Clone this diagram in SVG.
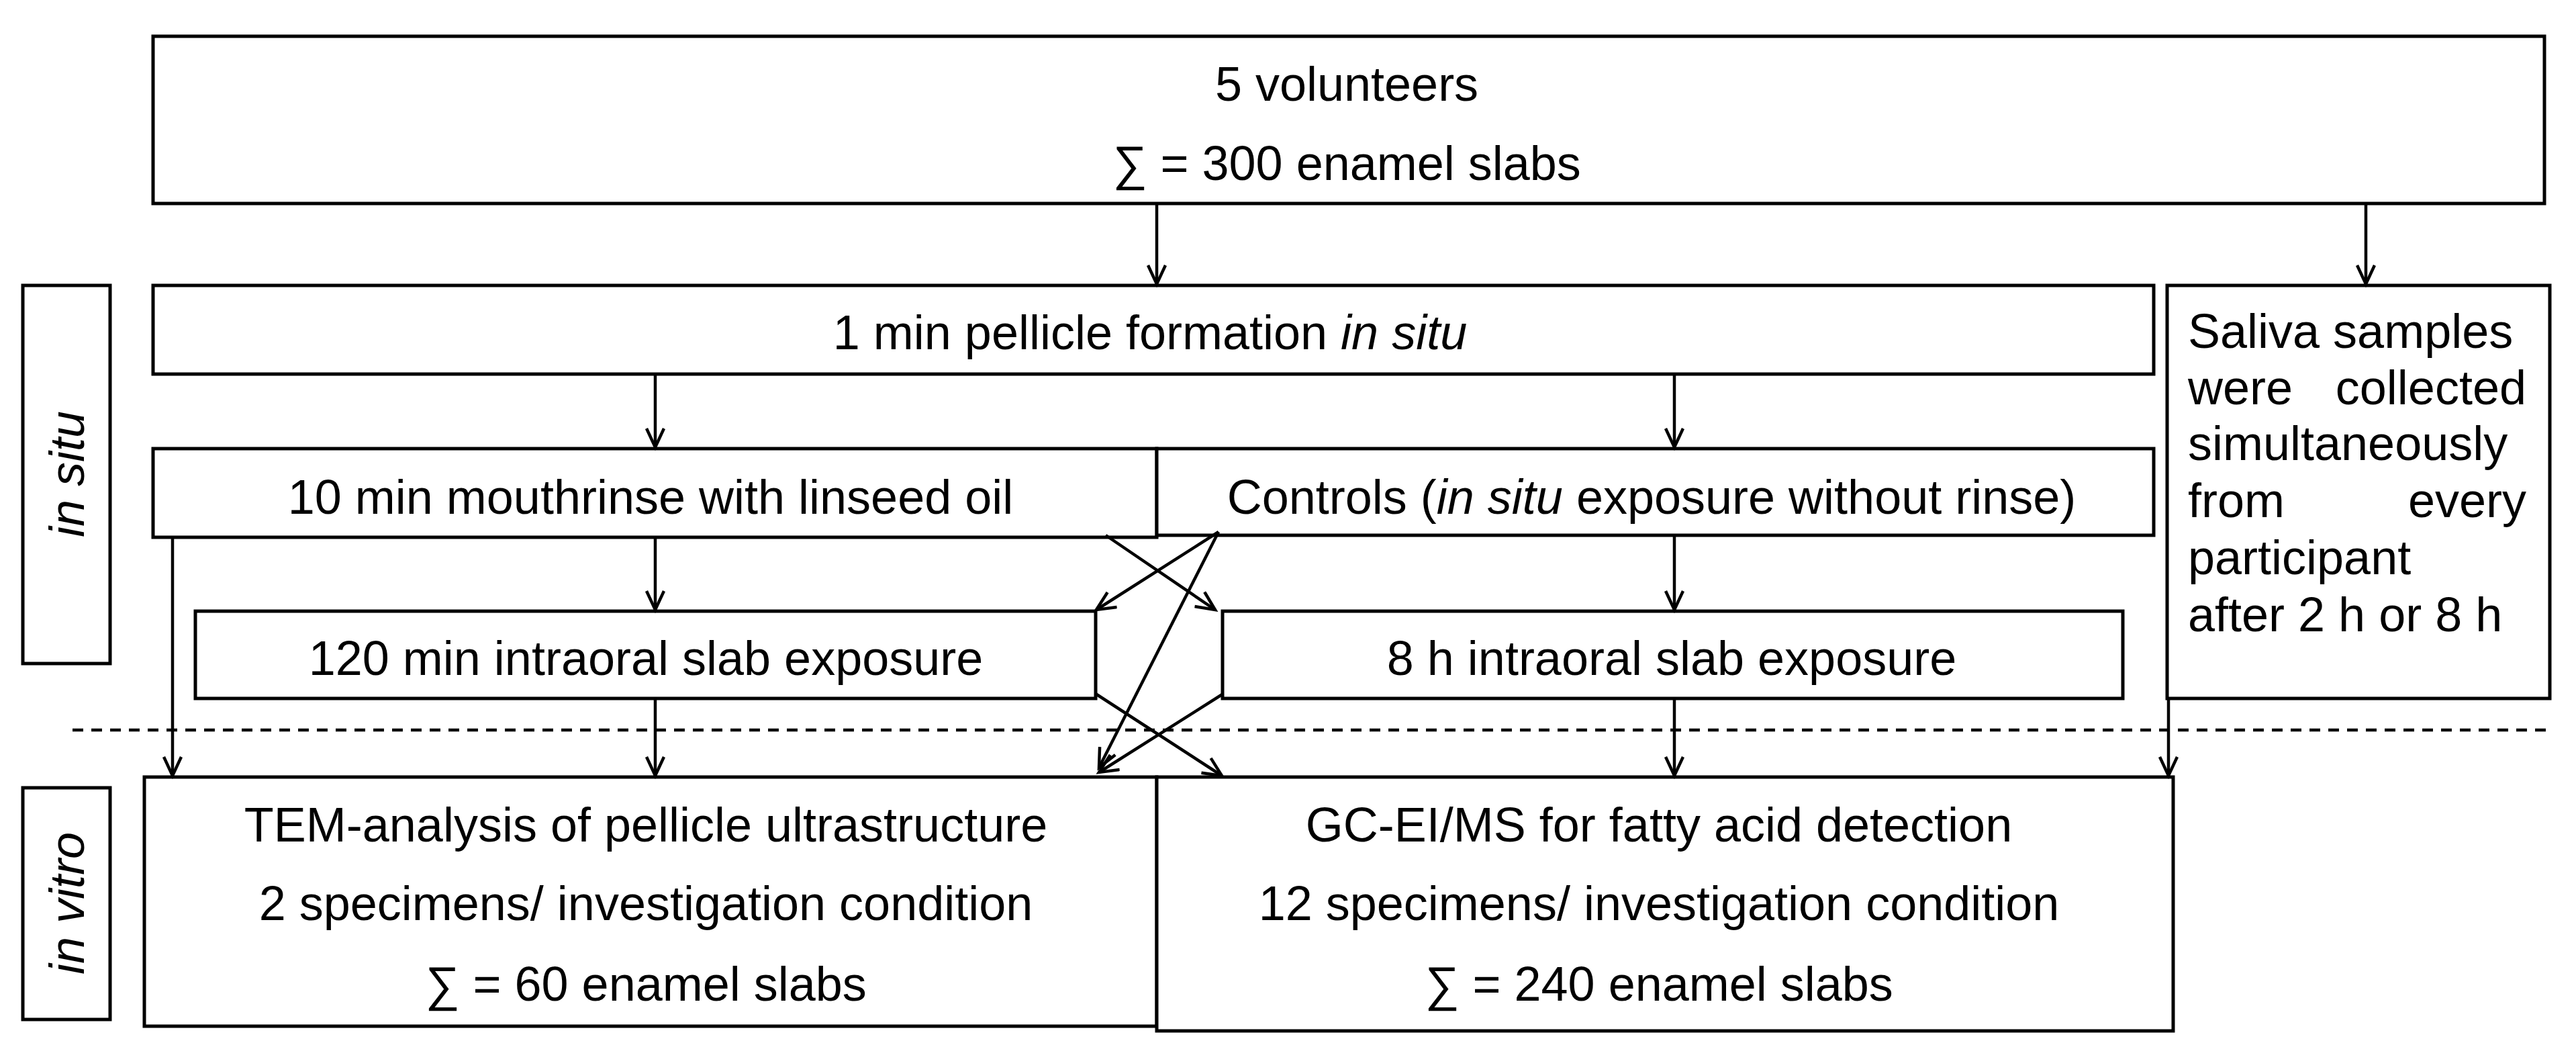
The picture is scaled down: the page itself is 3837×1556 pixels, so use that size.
<svg xmlns="http://www.w3.org/2000/svg" width="3837" height="1556" viewBox="0 0 3837 1556">
<style>
rect{fill:#fff;stroke:#000;stroke-width:5}
text{font-family:"Liberation Sans",Arial,sans-serif;font-size:72px;fill:#000}
.c{text-anchor:middle}
.e{text-anchor:end}
.con line{stroke:#000;stroke-width:4.5;marker-end:url(#a)}
</style>
<defs>
<marker id="a" markerUnits="userSpaceOnUse" markerWidth="40" markerHeight="40" refX="30" refY="15" orient="auto">
<path d="M2,2 L30,15 L2,28" fill="none" stroke="#000" stroke-width="4.5"/>
</marker>
</defs>
<rect width="3837" height="1556" style="stroke:none"/>
<g id="top"><rect x="228" y="54" width="3562" height="249"/>
<text class="c" x="2006" y="150">5 volunteers</text>
<text class="c" x="2006" y="268">∑ = 300 enamel slabs</text></g>
<g id="pellicle"><rect x="228" y="425" width="2980" height="132"/>
<text class="c" x="1713" y="520">1 min pellicle formation <tspan font-style="italic">in situ</tspan></text></g>
<g id="saliva"><rect x="3228" y="425" width="570" height="615"/>
<text x="3259" y="518">Saliva samples</text>
<text x="3259" y="602">were</text><text class="e" x="3763" y="602">collected</text>
<text x="3259" y="685">simultaneously</text>
<text x="3259" y="770">from</text><text class="e" x="3763" y="770">every</text>
<text x="3259" y="855">participant</text>
<text x="3259" y="940">after 2 h or 8 h</text></g>
<g id="insitu"><rect x="34" y="425" width="130" height="563"/>
<text class="c" font-style="italic" transform="translate(125,706) rotate(-90)">in situ</text></g>
<g id="invitro"><rect x="34" y="1173" width="130" height="345"/>
<text class="c" font-style="italic" transform="translate(125,1345) rotate(-90)">in vitro</text></g>
<g id="rinse"><rect x="228" y="668" width="1495" height="132"/>
<text class="c" x="969" y="765">10 min mouthrinse with linseed oil</text></g>
<g id="controls"><rect x="1723" y="668" width="1485" height="129"/>
<text class="c" x="2460" y="765">Controls (<tspan font-style="italic">in situ</tspan> exposure without rinse)</text></g>
<g id="exp120"><rect x="291" y="910" width="1341" height="130"/>
<text class="c" x="962" y="1005">120 min intraoral slab exposure</text></g>
<g id="exp8"><rect x="1821" y="910" width="1341" height="130"/>
<text class="c" x="2490" y="1005">8 h intraoral slab exposure</text></g>
<g id="tem"><rect x="215" y="1157" width="1508" height="371"/>
<text class="c" x="962" y="1253">TEM-analysis of pellicle ultrastructure</text>
<text class="c" x="962" y="1370">2 specimens/ investigation condition</text>
<text class="c" x="962" y="1490">∑ = 60 enamel slabs</text></g>
<g id="gc"><rect x="1723" y="1157" width="1514" height="378"/>
<text class="c" x="2471" y="1253">GC-EI/MS for fatty acid detection</text>
<text class="c" x="2471" y="1370">12 specimens/ investigation condition</text>
<text class="c" x="2471" y="1490">∑ = 240 enamel slabs</text></g>
<g id="connectors" class="con">
<line x1="1723" y1="303" x2="1723" y2="423"/>
<line x1="3524" y1="303" x2="3524" y2="423"/>
<line x1="976" y1="557" x2="976" y2="666"/>
<line x1="2494" y1="557" x2="2494" y2="666"/>
<line x1="976" y1="800" x2="976" y2="908"/>
<line x1="2494" y1="797" x2="2494" y2="908"/>
<line x1="257" y1="800" x2="257" y2="1155"/>
<line x1="976" y1="1040" x2="976" y2="1155"/>
<line x1="2494" y1="1040" x2="2494" y2="1155"/>
<line x1="3230" y1="1040" x2="3230" y2="1155"/>
<line x1="1647" y1="797" x2="1810" y2="908"/>
<line x1="1815" y1="792" x2="1633" y2="908"/>
<line x1="1815" y1="792" x2="1637" y2="1143"/>
<line x1="1632" y1="1033" x2="1820" y2="1155"/>
<line x1="1822" y1="1033" x2="1637" y2="1150"/>
<line x1="108" y1="1087" x2="3793" y2="1087" style="marker-end:none;stroke-dasharray:16 12"/>
</g>
</svg>
